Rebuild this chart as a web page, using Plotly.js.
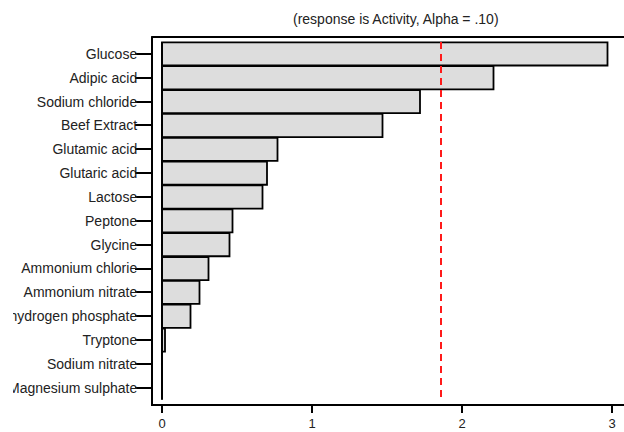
<!DOCTYPE html>
<html>
<head>
<meta charset="utf-8">
<script src="https://cdn.plot.ly/plotly-3.0.1.min.js"></script>
<style>html,body{margin:0;padding:0;background:#fff;}#chart{width:624px;height:432px;}</style>
</head>
<body>
<div id="chart"></div>
<script>
// Data (standardized effects, response is Activity)
var factors = ["Glucose", "Adipic acid", "Sodium chloride", "Beef Extract", "Glutamic acid",
  "Glutaric acid", "Lactose", "Peptone", "Glycine", "Ammonium chlorie", "Ammonium nitrate",
  "Dipotassium hydrogen phosphate", "Tryptone", "Sodium nitrate", "Magnesium sulphate"];
var effects = [2.97, 2.21, 1.72, 1.47, 0.77, 0.70, 0.67, 0.47, 0.45, 0.31, 0.25, 0.19, 0.02, 0, 0];
var alphaRef = 1.86;
var xTicks = [0, 1, 2, 3];
var subtitle = "(response is Activity, Alpha = .10)";

var W = 624, H = 432, L = 153, R = 0, T = 37, B = 28;
var pw = W - L - R;
function pxToPaperX(px) { return (px - L) / pw; }

var trace = {
  type: "bar",
  orientation: "h",
  x: effects,
  y: factors,
  width: 0.97,
  marker: {color: "#dddddd", line: {color: "#000000", width: 1.8}},
  hoverinfo: "x+y"
};

var layout = {
  width: W, height: H,
  margin: {l: L, r: R, t: T, b: B, pad: 0},
  paper_bgcolor: "#ffffff",
  plot_bgcolor: "#ffffff",
  showlegend: false,
  font: {family: "Liberation Sans, Arial, sans-serif", size: 14, color: "#222222"},
  xaxis: {
    range: [-0.06, 3.08],
    tickvals: xTicks,
    ticktext: xTicks.map(String),
    ticks: "outside", ticklen: 7, tickwidth: 2, tickcolor: "#000",
    showline: true, linecolor: "#000", linewidth: 2,
    showgrid: false, zeroline: false,
    ticklabelstandoff: -1,
    tickfont: {size: 13, color: "#222"}
  },
  yaxis: {
    type: "category",
    categoryorder: "array", categoryarray: factors,
    range: [14.68, -0.71],
    ticks: "outside", ticklen: 16, tickwidth: 2, tickcolor: "#000",
    showline: true, linecolor: "#000", linewidth: 2,
    showgrid: false, zeroline: false,
    ticklabelstandoff: -5,
    tickfont: {size: 14, color: "#222"}
  },
  shapes: [
    // top frame line
    {type: "line", xref: "paper", yref: "paper", x0: -0.004, x1: 1, y0: 1, y1: 1,
     line: {color: "#000", width: 2}},
    // zero baseline
    {type: "line", xref: "x", yref: "y", x0: 0, x1: 0, y0: -0.5, y1: 14.5,
     line: {color: "#000", width: 2}},
    // alpha reference line
    {type: "line", xref: "x", yref: "y", x0: alphaRef, x1: alphaRef, y0: -0.5, y1: 14.5,
     line: {color: "#ff1a1a", width: 2, dash: "7px,5px"}},
    // crop mask at left edge (reference image is cropped)
    {type: "rect", xref: "paper", yref: "paper", x0: pxToPaperX(-5), x1: pxToPaperX(13),
     y0: -0.1, y1: 1.1, fillcolor: "#ffffff", line: {width: 0}, layer: "above"}
  ],
  annotations: [
    {text: subtitle, xref: "paper", yref: "paper", x: pxToPaperX(396), y: 1,
     yshift: 18, xanchor: "center", yanchor: "middle", showarrow: false,
     font: {size: 14, color: "#222"}}
  ]
};

Plotly.newPlot("chart", [trace], layout, {staticPlot: true, displayModeBar: false});
</script>
</body>
</html>
